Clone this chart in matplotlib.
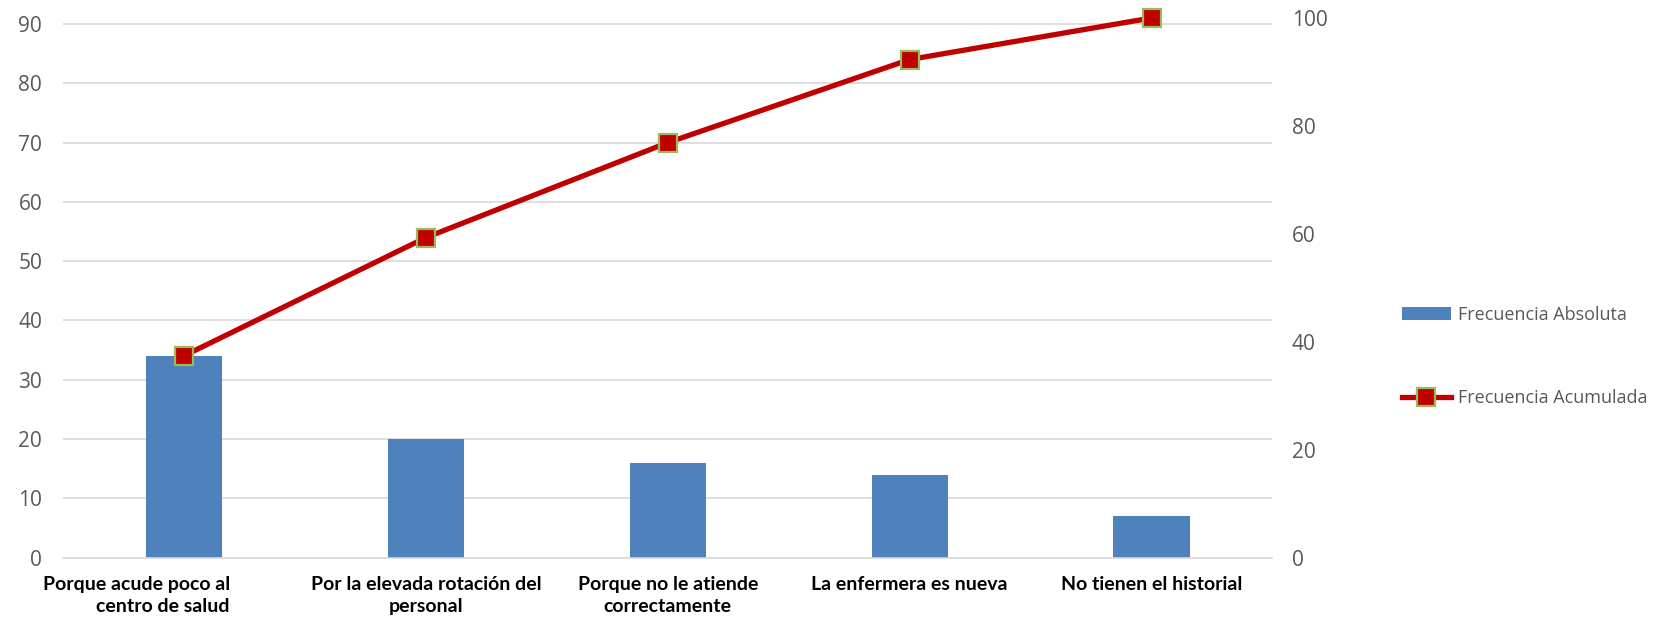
#!/usr/bin/env python3
"""Pareto chart: absolute frequency bars with cumulative percentage line."""
import matplotlib
matplotlib.use('Agg')
import matplotlib.pyplot as plt
import matplotlib.transforms as mtransforms

categories = ['Porque acude poco al\ncentro de salud',
              'Por la elevada rotación del\npersonal',
              'Porque no le atiende\ncorrectamente',
              'La enfermera es nueva',
              'No tienen el historial']
frec_absoluta = [34, 20, 16, 14, 7]
frec_acumulada = [37.4, 59.3, 76.9, 92.3, 100.0]
total = 91

plt.rcParams['font.family'] = ['Open Sans', 'DejaVu Sans']
grey = '#595959'

fig = plt.figure(figsize=(16.59, 6.24), dpi=100)
ax = fig.add_axes([0.038, 0.1064, 0.729, 0.8648])
x = range(len(categories))

bars = ax.bar(x, frec_absoluta, 0.315, color='#4F81BD',
              label='Frecuencia Absoluta', zorder=2)
ax.set_xlim(-0.5, len(categories) - 0.5)
ax.set_ylim(0, total)
ax.set_yticks(range(0, 91, 10))
ax.grid(axis='y', color='#D9D9D9', linewidth=1.2, zorder=0)
ax.set_axisbelow(True)
for s in ['top', 'left', 'right']:
    ax.spines[s].set_visible(False)
ax.spines['bottom'].set_color('#D9D9D9')
ax.spines['bottom'].set_linewidth(1.2)
ax.tick_params(axis='y', length=0, pad=15, labelsize=15, labelcolor=grey)
ax.tick_params(axis='x', length=0, pad=13)
ax.set_xticks(list(x))
ax.set_xticklabels(categories, fontsize=14, fontweight='bold',
                   fontfamily=['Lato', 'DejaVu Sans'], linespacing=1.4)

# first label sits right-aligned in the original
first = ax.get_xticklabels()[0]
first.set_horizontalalignment('right')
first.set_multialignment('right')
first.set_transform(first.get_transform() +
                    mtransforms.ScaledTranslation(0.46, 0, fig.dpi_scale_trans))

ax2 = ax.twinx()
line, = ax2.plot(x, frec_acumulada, color='#C00000', linewidth=3.8,
                 marker='s', markersize=13, markerfacecolor='#C00000',
                 markeredgecolor='#9BBB59', markeredgewidth=1.6,
                 label='Frecuencia Acumulada', zorder=3, clip_on=False)
ax2.set_ylim(0, 100)
ax2.set_yticks(range(0, 101, 20))
for s in ax2.spines.values():
    s.set_visible(False)
ax2.tick_params(axis='y', length=0, pad=14, labelsize=15, labelcolor=grey)

leg = fig.legend([bars, line], ['Frecuencia Absoluta', 'Frecuencia Acumulada'],
                 loc='center left', bbox_to_anchor=(0.845, 0.4287),
                 bbox_transform=fig.transFigure, frameon=False,
                 fontsize=13, labelspacing=3.6, handlelength=2.7,
                 handletextpad=0.4, borderpad=0, borderaxespad=0)
for t in leg.get_texts():
    t.set_color(grey)

fig.savefig('out.png', dpi=100)
